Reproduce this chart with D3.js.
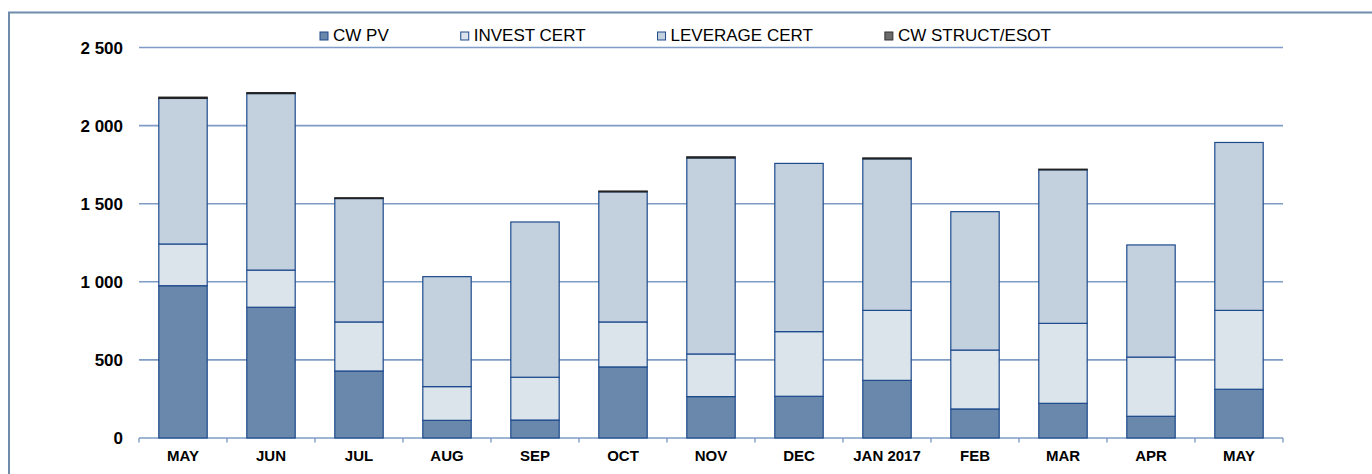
<!DOCTYPE html>
<html>
<head>
<meta charset="utf-8">
<script src="https://cdn.jsdelivr.net/npm/d3@7"></script>
<style>
  body { margin: 0; background: #fff; }
  svg { display: block; }
</style>
</head>
<body>
<svg id="chart" width="1372" height="474"></svg>
<script>
// months shown on the x axis
var months = ["MAY", "JUN", "JUL", "AUG", "SEP", "OCT", "NOV", "DEC", "JAN 2017", "FEB", "MAR", "APR", "MAY"];

// series values
var cwPv      = [975, 837, 429, 113, 115, 455, 265, 267, 369, 186, 222, 139, 312];
var investCert = [267, 238, 314, 216, 274, 288, 273, 414, 448, 377, 512, 379, 505];
var leverageCert = [932, 1130, 790, 704, 994, 833, 1255, 1077, 970, 886, 983, 718, 1075];
var cwStruct  = [8, 6, 5, 0, 0, 5, 7, 0, 6, 0, 4, 0, 0];

var seriesNames = ["CW PV", "INVEST CERT", "LEVERAGE CERT", "CW STRUCT/ESOT"];
var yTicks = [0, 500, 1000, 1500, 2000, 2500];

var fills = ["#6a88ab", "#dbe3eb", "#c3d1de", "#3a3a3a"];
var legendFills = ["#6a88ab", "#dbe3eb", "#c3d1de", "#6b6b6b"];

var svg = d3.select("#chart");
var width = +svg.attr("width"), height = +svg.attr("height");

// outer frame
svg.append("rect")
    .attr("x", 9).attr("y", 12.5)
    .attr("width", width).attr("height", height)
    .attr("fill", "none")
    .attr("stroke", "#6f8cad")
    .attr("stroke-width", 2);

var x0 = 139, x1 = 1283, yTop = 47.5, yBottom = 438;

var x = d3.scaleBand()
    .domain(d3.range(months.length))
    .range([x0, x1])
    .paddingInner(0.45)
    .paddingOuter(0.225);

var y = d3.scaleLinear()
    .domain([0, 2500])
    .range([yBottom, yTop]);

var fmt = d3.formatLocale({ decimal: ",", thousands: " ", grouping: [3], currency: ["", ""] }).format(",d");

// gridlines
svg.append("g").selectAll("line")
    .data(yTicks)
    .join("line")
    .attr("x1", x0).attr("x2", x1)
    .attr("y1", d => y(d)).attr("y2", d => y(d))
    .attr("stroke", "#7f9cc6")
    .attr("stroke-width", 1.6);

// y labels
svg.append("g").selectAll("text")
    .data(yTicks)
    .join("text")
    .attr("x", 123)
    .attr("y", d => y(d))
    .attr("dy", "0.36em")
    .attr("text-anchor", "end")
    .style("font-family", "Liberation Sans, Arial, sans-serif")
    .style("font-weight", "bold")
    .style("font-size", "17px")
    .attr("fill", "#000")
    .text(d => fmt(d));

// x ticks at band boundaries
var step = x.step();
svg.append("g").selectAll("line")
    .data(d3.range(months.length + 1))
    .join("line")
    .attr("x1", i => x0 + i * step).attr("x2", i => x0 + i * step)
    .attr("y1", yBottom).attr("y2", yBottom + 4.5)
    .attr("stroke", "#7f9cc6")
    .attr("stroke-width", 1.4);

// stacked bars
var rows = months.map(function(m, i) {
    return { i: i, a: cwPv[i], b: investCert[i], c: leverageCert[i], d: cwStruct[i] };
});
var stack = d3.stack().keys(["a", "b", "c", "d"]);
var layers = stack(rows);

svg.append("g").selectAll("g")
    .data(layers)
    .join("g")
    .attr("fill", (d, k) => fills[k])
    .selectAll("rect")
    .data(d => d.filter(s => s[1] - s[0] > 0))
    .join("rect")
    .attr("x", d => x(d.data.i))
    .attr("width", x.bandwidth())
    .attr("y", d => y(d[1]))
    .attr("height", d => y(d[0]) - y(d[1]))
    .attr("stroke", function(d) { return this.parentNode.__data__.key === "d" ? "#222" : "#1d4a8c"; })
    .attr("stroke-width", 1.2);

// x labels
svg.append("g").selectAll("text")
    .data(months)
    .join("text")
    .attr("x", (d, i) => x(i) + x.bandwidth() / 2)
    .attr("y", 461)
    .attr("text-anchor", "middle")
    .style("font-family", "Liberation Sans, Arial, sans-serif")
    .style("font-weight", "bold")
    .style("font-size", "15px")
    .attr("fill", "#000")
    .text(d => d);

// legend
var legend = svg.append("g");
var lx = 320;
seriesNames.forEach(function(name, k) {
    legend.append("rect")
        .attr("x", lx).attr("y", 32)
        .attr("width", 8).attr("height", 8)
        .attr("fill", legendFills[k])
        .attr("stroke", k === 3 ? "#333" : "#1d4a8c")
        .attr("stroke-width", 1);
    var t = legend.append("text")
        .attr("x", lx + 13)
        .attr("y", 41)
        .style("font-family", "Liberation Sans, Arial, sans-serif")
        .style("font-size", "17px")
        .attr("fill", "#000")
        .text(name);
    lx += 13 + t.node().getComputedTextLength() + 72;
});
</script>
</body>
</html>
